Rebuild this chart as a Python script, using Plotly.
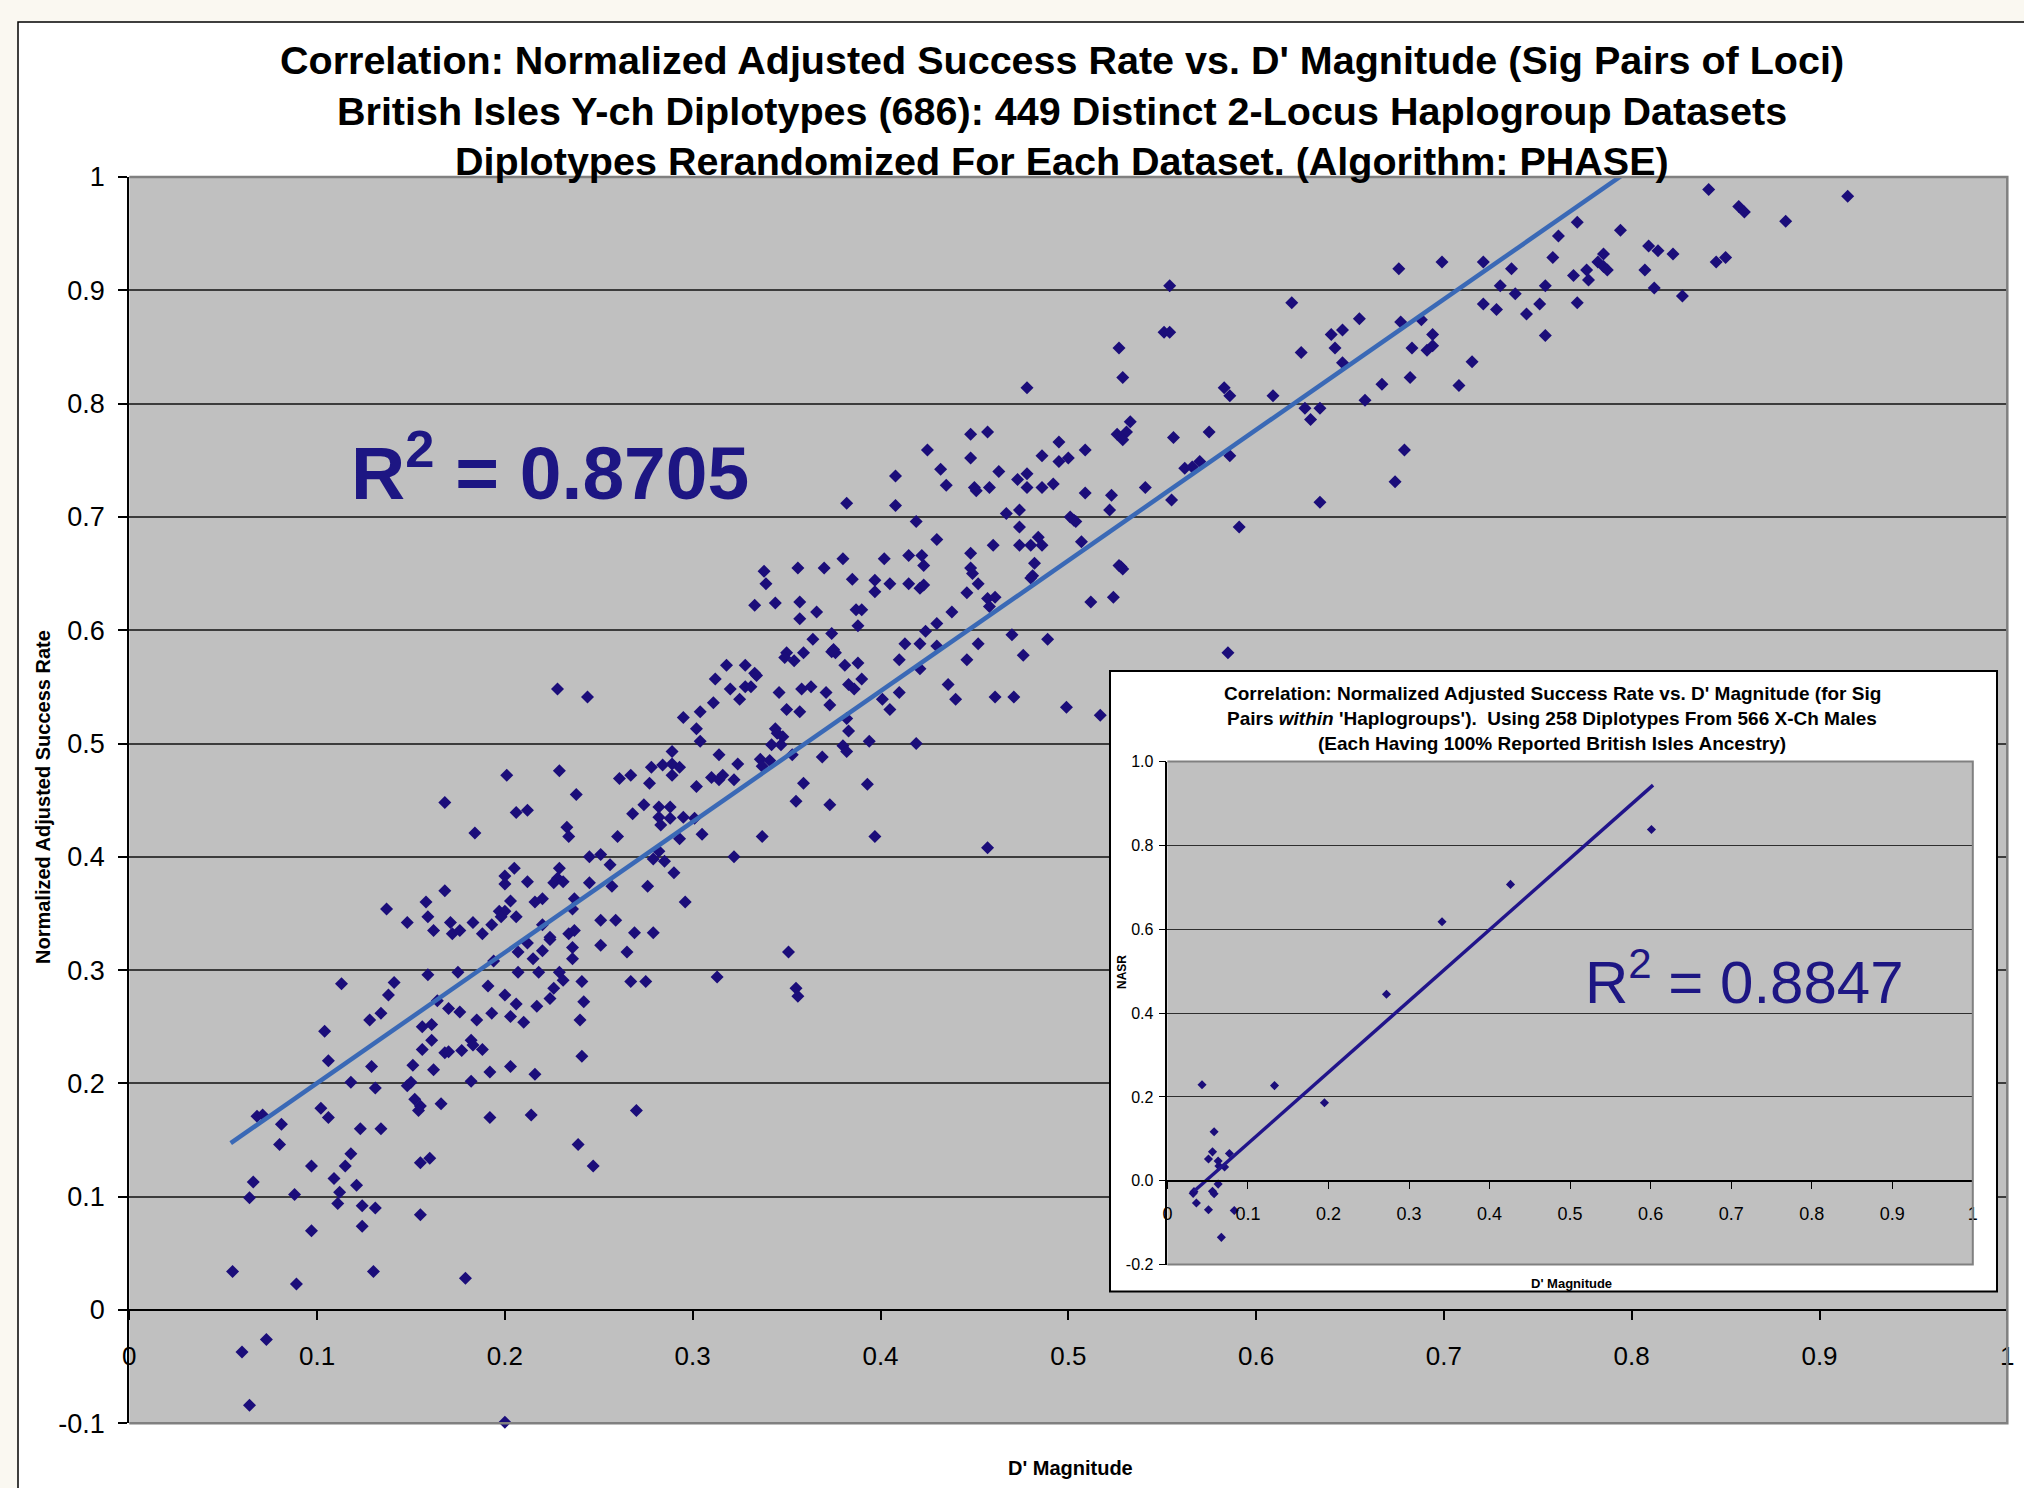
import plotly.graph_objects as go

W, H = 2024, 1488
FONT = "Liberation Sans, Arial, sans-serif"

# ---------------- main scatter data (D' magnitude vs NASR) ----------------
dprime_low = [0.134, 0.128, 0.104, 0.106, 0.129, 0.118, 0.131, 0.102, 0.106, 0.068, 0.071, 0.081, 0.080,
              0.123, 0.134, 0.118, 0.115, 0.097, 0.066, 0.064, 0.088, 0.109, 0.112, 0.121, 0.111, 0.124,
              0.131, 0.124, 0.097, 0.055, 0.089, 0.130, 0.155, 0.179, 0.060, 0.073, 0.064, 0.200, 0.155,
              0.160, 0.152, 0.155, 0.154, 0.166, 0.148, 0.150, 0.182, 0.162, 0.151, 0.156, 0.161, 0.168,
              0.170, 0.177, 0.182, 0.183, 0.188, 0.192, 0.192, 0.203, 0.216, 0.214, 0.239, 0.247, 0.241,
              0.240, 0.242, 0.270, 0.156, 0.161, 0.164, 0.170, 0.176, 0.185, 0.193, 0.203, 0.206, 0.210,
              0.217]
nasr_low = [0.262, 0.256, 0.246, 0.220, 0.215, 0.201, 0.196, 0.178, 0.170, 0.171, 0.172, 0.164, 0.146,
            0.160, 0.160, 0.138, 0.127, 0.127, 0.113, 0.099, 0.102, 0.116, 0.104, 0.110, 0.094, 0.092,
            0.090, 0.074, 0.070, 0.034, 0.023, 0.034, 0.084, 0.028, -0.037, -0.026, -0.084, -0.099, 0.130,
            0.134, 0.186, 0.180, 0.176, 0.182, 0.198, 0.201, 0.202, 0.212, 0.216, 0.230, 0.238, 0.227,
            0.228, 0.229, 0.238, 0.234, 0.230, 0.210, 0.170, 0.215, 0.208, 0.172, 0.146, 0.127, 0.224,
            0.256, 0.272, 0.176, 0.250, 0.252, 0.273, 0.266, 0.263, 0.256, 0.262, 0.259, 0.270, 0.254,
            0.268]

dprime_mid1 = [0.228, 0.244, 0.201, 0.229, 0.168, 0.206, 0.212, 0.238, 0.184, 0.233, 0.234, 0.260, 0.261,
               0.267, 0.277, 0.268, 0.274, 0.245, 0.251, 0.256, 0.205, 0.200, 0.200, 0.212, 0.229, 0.228,
               0.226, 0.231, 0.245, 0.257, 0.276, 0.168, 0.158, 0.137, 0.148, 0.159, 0.162, 0.171, 0.172,
               0.176, 0.183, 0.188, 0.193, 0.197, 0.200, 0.198, 0.203, 0.206, 0.216, 0.220, 0.220, 0.237,
               0.236, 0.251, 0.259, 0.269, 0.234, 0.237, 0.236, 0.236, 0.224, 0.224, 0.220, 0.215, 0.212,
               0.207, 0.194, 0.207, 0.218, 0.229, 0.231, 0.241, 0.251, 0.265, 0.267, 0.275, 0.175, 0.159,
               0.141, 0.113, 0.138, 0.191, 0.200, 0.226, 0.224]
nasr_mid1 = [0.548, 0.541, 0.472, 0.476, 0.448, 0.439, 0.441, 0.455, 0.421, 0.426, 0.418, 0.418, 0.469,
             0.472, 0.465, 0.438, 0.446, 0.400, 0.402, 0.393, 0.390, 0.383, 0.376, 0.378, 0.390, 0.381,
             0.377, 0.378, 0.377, 0.374, 0.374, 0.370, 0.360, 0.354, 0.342, 0.347, 0.335, 0.342, 0.332,
             0.335, 0.342, 0.332, 0.340, 0.352, 0.352, 0.347, 0.361, 0.347, 0.360, 0.363, 0.340, 0.363,
             0.354, 0.344, 0.344, 0.333, 0.332, 0.335, 0.320, 0.310, 0.329, 0.327, 0.317, 0.310, 0.324,
             0.316, 0.308, 0.298, 0.298, 0.298, 0.291, 0.290, 0.322, 0.316, 0.290, 0.290, 0.298, 0.296,
             0.289, 0.288, 0.278, 0.286, 0.278, 0.284, 0.275]

dprime_mid2 = [0.382, 0.408, 0.338, 0.339, 0.356, 0.370, 0.380, 0.402, 0.385, 0.397, 0.397, 0.405, 0.333,
               0.344, 0.357, 0.357, 0.366, 0.387, 0.390, 0.388, 0.374, 0.364, 0.350, 0.349, 0.354, 0.359,
               0.375, 0.376, 0.374, 0.381, 0.388, 0.390, 0.383, 0.386, 0.318, 0.328, 0.312, 0.333, 0.334,
               0.320, 0.328, 0.331, 0.325, 0.311, 0.304, 0.295, 0.302, 0.304, 0.314, 0.289, 0.284, 0.289,
               0.293, 0.289, 0.278, 0.324, 0.302, 0.310, 0.314, 0.316, 0.322, 0.346, 0.350, 0.357, 0.358,
               0.363, 0.371, 0.373, 0.344, 0.345, 0.348, 0.342, 0.347, 0.336, 0.337, 0.341, 0.353, 0.359,
               0.355, 0.369, 0.373, 0.382, 0.383, 0.380, 0.382, 0.394, 0.401, 0.405, 0.410, 0.393, 0.397,
               0.337, 0.322, 0.305, 0.293, 0.301, 0.295, 0.288, 0.288, 0.282, 0.282, 0.283, 0.282, 0.279,
               0.285, 0.290, 0.296, 0.279, 0.351, 0.313, 0.355, 0.356, 0.457]
nasr_mid2 = [0.712, 0.710, 0.652, 0.641, 0.655, 0.655, 0.663, 0.663, 0.645, 0.644, 0.634, 0.641, 0.622,
             0.624, 0.625, 0.610, 0.616, 0.618, 0.618, 0.604, 0.597, 0.592, 0.580, 0.576, 0.573, 0.580,
             0.583, 0.580, 0.581, 0.569, 0.571, 0.557, 0.552, 0.548, 0.569, 0.569, 0.557, 0.562, 0.560,
             0.548, 0.550, 0.550, 0.539, 0.536, 0.528, 0.523, 0.513, 0.502, 0.490, 0.493, 0.481, 0.482,
             0.479, 0.472, 0.479, 0.482, 0.462, 0.470, 0.468, 0.472, 0.468, 0.545, 0.530, 0.528, 0.548,
             0.550, 0.545, 0.534, 0.513, 0.509, 0.506, 0.499, 0.499, 0.486, 0.480, 0.485, 0.490, 0.465,
             0.449, 0.488, 0.446, 0.522, 0.511, 0.498, 0.493, 0.502, 0.539, 0.530, 0.545, 0.464, 0.418,
             0.418, 0.400, 0.420, 0.416, 0.434, 0.435, 0.434, 0.444, 0.444, 0.435, 0.428, 0.405, 0.398,
             0.396, 0.386, 0.360, 0.333, 0.316, 0.294, 0.284, 0.277, 0.408]

dprime_mid3 = [0.435, 0.450, 0.451, 0.458, 0.478, 0.486, 0.492, 0.509, 0.523, 0.522, 0.541, 0.555, 0.634,
               0.419, 0.430, 0.415, 0.422, 0.423, 0.415, 0.421, 0.423, 0.448, 0.448, 0.449, 0.452, 0.446,
               0.460, 0.467, 0.474, 0.474, 0.474, 0.480, 0.484, 0.486, 0.482, 0.481, 0.480, 0.501, 0.503,
               0.504, 0.507, 0.528, 0.529, 0.527, 0.512, 0.524, 0.457, 0.461, 0.458, 0.438, 0.430, 0.424,
               0.413, 0.421, 0.430, 0.410, 0.421, 0.436, 0.440, 0.446, 0.452, 0.470, 0.476, 0.489, 0.461,
               0.471, 0.499, 0.517, 0.419, 0.585, 0.591]
nasr_mid3 = [0.728, 0.726, 0.723, 0.726, 0.726, 0.726, 0.729, 0.721, 0.719, 0.706, 0.726, 0.715, 0.713,
             0.696, 0.680, 0.666, 0.666, 0.657, 0.641, 0.637, 0.640, 0.668, 0.655, 0.650, 0.641, 0.633,
             0.675, 0.703, 0.706, 0.691, 0.675, 0.675, 0.682, 0.675, 0.659, 0.648, 0.646, 0.700, 0.697,
             0.696, 0.678, 0.656, 0.654, 0.657, 0.625, 0.629, 0.628, 0.629, 0.621, 0.616, 0.606, 0.599,
             0.588, 0.588, 0.586, 0.574, 0.566, 0.552, 0.539, 0.574, 0.588, 0.596, 0.578, 0.592, 0.541,
             0.541, 0.532, 0.525, 0.500, 0.580, 0.691]

dprime_high1 = [0.554, 0.551, 0.554, 0.619, 0.624, 0.640, 0.642, 0.646, 0.646, 0.527, 0.529, 0.478, 0.583,
                0.586, 0.609, 0.626, 0.634, 0.629, 0.533, 0.526, 0.531, 0.529, 0.556, 0.575, 0.586, 0.562,
                0.566, 0.570, 0.448, 0.457, 0.425, 0.432, 0.448, 0.463, 0.408, 0.473, 0.478, 0.486, 0.495,
                0.495, 0.500, 0.509]
nasr_high1 = [0.904, 0.863, 0.863, 0.889, 0.845, 0.861, 0.849, 0.865, 0.836, 0.849, 0.823, 0.814, 0.814,
              0.807, 0.807, 0.796, 0.796, 0.786, 0.784, 0.773, 0.775, 0.768, 0.770, 0.775, 0.754, 0.743,
              0.744, 0.749, 0.773, 0.775, 0.759, 0.742, 0.752, 0.740, 0.736, 0.733, 0.738, 0.754, 0.766,
              0.749, 0.752, 0.759]

dprime_high2 = [0.841, 0.915, 0.857, 0.860, 0.882, 0.771, 0.794, 0.761, 0.809, 0.814, 0.822, 0.785, 0.782,
                0.758, 0.785, 0.787, 0.776, 0.769, 0.777, 0.807, 0.812, 0.827, 0.845, 0.850, 0.699, 0.676,
                0.721, 0.736, 0.730, 0.738, 0.754, 0.771, 0.751, 0.744, 0.754, 0.721, 0.728, 0.655, 0.677,
                0.688, 0.694, 0.694, 0.691, 0.683, 0.715, 0.667, 0.682, 0.708, 0.658, 0.679, 0.674]
nasr_high2 = [0.989, 0.983, 0.974, 0.969, 0.961, 0.960, 0.953, 0.948, 0.939, 0.935, 0.932, 0.932, 0.925,
              0.929, 0.921, 0.918, 0.918, 0.913, 0.909, 0.918, 0.902, 0.895, 0.925, 0.929, 0.925, 0.919,
              0.925, 0.919, 0.904, 0.897, 0.904, 0.889, 0.888, 0.879, 0.860, 0.888, 0.883, 0.875, 0.872,
              0.874, 0.861, 0.851, 0.847, 0.849, 0.837, 0.817, 0.823, 0.816, 0.803, 0.759, 0.731]

main_x = dprime_low + dprime_mid1 + dprime_mid2 + dprime_mid3 + dprime_high1 + dprime_high2
main_y = nasr_low + nasr_mid1 + nasr_mid2 + nasr_mid3 + nasr_high1 + nasr_high2

# linear trendline of main chart
trend_slope = 1.153
trend_intercept = 0.085
trend_x = [0.054, 0.915]
trend_y = [trend_slope * v + trend_intercept for v in trend_x]
main_r2_text = "R<sup>2</sup> = 0.8705"

# ---------------- inset data ----------------
inset_x = [0.601, 0.426, 0.341, 0.272, 0.133, 0.195, 0.043, 0.058, 0.056, 0.051, 0.077, 0.063,
           0.071, 0.064, 0.063, 0.033, 0.032, 0.056, 0.058, 0.036, 0.051, 0.083, 0.067]
inset_y = [0.838, 0.707, 0.618, 0.445, 0.227, 0.186, 0.229, 0.117, 0.069, 0.052, 0.065, 0.047,
           0.033, 0.035, -0.008, -0.026, -0.030, -0.025, -0.031, -0.053, -0.069, -0.071, -0.135]
inset_trend_x = [0.033, 0.603]
inset_trend_y = [-0.025, 0.944]
inset_r2_text = "R<sup>2</sup> = 0.8847"

# ---------------- ticks ----------------
x_tickvals = [0, 0.1, 0.2, 0.3, 0.4, 0.5, 0.6, 0.7, 0.8, 0.9, 1]
x_ticktext = ["0", "0.1", "0.2", "0.3", "0.4", "0.5", "0.6", "0.7", "0.8", "0.9", "1"]
y_tickvals = [-0.1, 0, 0.1, 0.2, 0.3, 0.4, 0.5, 0.6, 0.7, 0.8, 0.9, 1]
y_ticktext = ["-0.1", "0", "0.1", "0.2", "0.3", "0.4", "0.5", "0.6", "0.7", "0.8", "0.9", "1"]
inset_y_tickvals = [-0.2, 0.0, 0.2, 0.4, 0.6, 0.8, 1.0]
inset_y_ticktext = ["-0.2", "0.0", "0.2", "0.4", "0.6", "0.8", "1.0"]

title_lines = [
    "Correlation: Normalized Adjusted Success Rate vs. D' Magnitude (Sig Pairs of Loci)",
    "British Isles Y-ch Diplotypes (686): 449 Distinct 2-Locus Haplogroup Datasets",
    "Diplotypes Rerandomized For Each Dataset. (Algorithm: PHASE)",
]
inset_title_lines = [
    "Correlation: Normalized Adjusted Success Rate vs. D' Magnitude (for Sig",
    "Pairs <i>within</i> 'Haplogroups').\u00a0 Using 258 Diplotypes From 566 X-Ch Males",
    "(Each Having 100% Reported British Isles Ancestry)",
]

# ---------------- layout geometry (pixels -> paper) ----------------
def px(X):
    return X / W

def py(Y):
    return 1 - Y / H

MAIN_L, MAIN_R, MAIN_T, MAIN_B = 129.3, 2007.3, 177.0, 1423.3
INS_L, INS_R, INS_T, INS_B = 1167.4, 1972.8, 761.6, 1264.6
Y_RANGE = [-0.1, 1.0]
Y2_RANGE = [-0.2, 1.0]

main_ydom = [py(MAIN_B), py(MAIN_T)]
ins_ydom = [py(INS_B), py(INS_T)]
main_x_pos = main_ydom[0] + (0 - Y_RANGE[0]) / (Y_RANGE[1] - Y_RANGE[0]) * (main_ydom[1] - main_ydom[0])
ins_x_pos = ins_ydom[0] + (0 - Y2_RANGE[0]) / (Y2_RANGE[1] - Y2_RANGE[0]) * (ins_ydom[1] - ins_ydom[0])

def main_data_x(X):
    return (X - MAIN_L) / (MAIN_R - MAIN_L)

def main_data_y(Y):
    return Y_RANGE[1] - (Y - MAIN_T) / (MAIN_B - MAIN_T) * (Y_RANGE[1] - Y_RANGE[0])

MARK = "#1B0D7A"
NAVY_TXT = "#1D1683"

fig = go.Figure()
fig.add_trace(go.Scatter(x=main_x, y=main_y, mode="markers", xaxis="x", yaxis="y",
                         marker=dict(symbol="diamond", size=10, color=MARK, line=dict(width=0)),
                         cliponaxis=False, hoverinfo="skip"))
fig.add_trace(go.Scatter(x=trend_x, y=trend_y, mode="lines", xaxis="x", yaxis="y",
                         line=dict(color="#3A69B6", width=4.5), hoverinfo="skip"))
fig.add_trace(go.Scatter(x=inset_x, y=inset_y, mode="markers", xaxis="x2", yaxis="y2",
                         marker=dict(symbol="diamond", size=7, color=MARK, line=dict(width=0)),
                         cliponaxis=False, hoverinfo="skip"))
fig.add_trace(go.Scatter(x=inset_trend_x, y=inset_trend_y, mode="lines", xaxis="x2", yaxis="y2",
                         line=dict(color="#21148A", width=3.5), hoverinfo="skip"))

axis_common = dict(zeroline=False, fixedrange=True, showline=True,
                   linecolor="black", ticks="outside", tickcolor="black")

fig.update_layout(
    autosize=True, margin=dict(l=0, r=0, t=0, b=0, autoexpand=False),
    paper_bgcolor="white", plot_bgcolor="#C0C0C0", showlegend=False,
    font=dict(family=FONT, color="black"),
    xaxis=dict(**axis_common, showgrid=False, domain=[px(MAIN_L), px(MAIN_R)], anchor="free",
               position=main_x_pos, range=[0, 1], tickmode="array", tickvals=x_tickvals,
               ticktext=x_ticktext, linewidth=2, tickwidth=1.5, ticklen=9, ticklabelstandoff=14,
               tickfont=dict(size=26, family=FONT)),
    yaxis=dict(**axis_common, domain=main_ydom, anchor="x", range=Y_RANGE,
               tickmode="array", tickvals=y_tickvals, ticktext=y_ticktext,
               showgrid=True, gridcolor="#3C3C3C", gridwidth=1.5,
               linewidth=2, tickwidth=1.5, ticklen=9, ticklabelstandoff=8,
               tickfont=dict(size=27, family=FONT)),
    xaxis2=dict(**axis_common, showgrid=False, domain=[px(INS_L), px(INS_R)], anchor="free",
                position=ins_x_pos, range=[0, 1], tickmode="array", tickvals=x_tickvals,
                ticktext=x_ticktext, linewidth=1.5, tickwidth=1.2, ticklen=7, ticklabelstandoff=10,
                tickfont=dict(size=18, family=FONT)),
    yaxis2=dict(**axis_common, domain=ins_ydom, anchor="x2", range=Y2_RANGE,
                tickmode="array", tickvals=inset_y_tickvals, ticktext=inset_y_ticktext,
                showgrid=True, gridcolor="#2E2E2E", gridwidth=1,
                linewidth=1.5, tickwidth=1.2, ticklen=7, ticklabelstandoff=2,
                tickfont=dict(size=16, family=FONT)),
)

shapes = []
CREAM = "#FAF8F1"
shapes.append(dict(type="rect", xref="paper", yref="paper", x0=0, x1=1, y0=py(22), y1=1,
                   fillcolor=CREAM, line=dict(width=0), layer="below"))
shapes.append(dict(type="rect", xref="paper", yref="paper", x0=0, x1=px(18), y0=0, y1=1,
                   fillcolor=CREAM, line=dict(width=0), layer="below"))
shapes.append(dict(type="path", xref="paper", yref="paper",
                   path=f"M {px(18)},{py(H + 5)} L {px(18)},{py(22)} L {px(W + 5)},{py(22)}",
                   line=dict(color="black", width=1.5), layer="below"))
# grey border of main plot area (top, right, bottom)
shapes.append(dict(type="path", xref="paper", yref="paper",
                   path=f"M {px(MAIN_L)},{py(MAIN_T)} L {px(MAIN_R)},{py(MAIN_T)} L {px(MAIN_R)},{py(MAIN_B)} L {px(MAIN_L)},{py(MAIN_B)}",
                   line=dict(color="#808080", width=2.5), layer="above"))
# inset white frame (drawn between gridlines and traces of the main chart)
shapes.append(dict(type="rect", xref="x", yref="y",
                   x0=main_data_x(1110), x1=main_data_x(1997), y0=main_data_y(1291.5), y1=main_data_y(671),
                   fillcolor="white", line=dict(color="black", width=2), layer="between"))
# grey border of inset plot area
shapes.append(dict(type="path", xref="paper", yref="paper",
                   path=f"M {px(INS_L)},{py(INS_T)} L {px(INS_R)},{py(INS_T)} L {px(INS_R)},{py(INS_B)} L {px(INS_L)},{py(INS_B)}",
                   line=dict(color="#808080", width=2), layer="above"))
fig.update_layout(shapes=shapes)

ann = []
for i, line in enumerate(title_lines):
    ann.append(dict(text=f"<b>{line}</b>", x=px(1062), y=py(60.5 + 50.2 * i), xref="paper", yref="paper",
                    xanchor="center", yanchor="middle", showarrow=False,
                    font=dict(size=39.5, family=FONT, color="black")))
for i, line in enumerate(inset_title_lines):
    ann.append(dict(text=f"<b>{line}</b>", x=px(1552), y=py(694 + 24.7 * i), xref="paper", yref="paper",
                    xanchor="center", yanchor="middle", showarrow=False,
                    font=dict(size=19, family=FONT, color="black")))
ann.append(dict(text="<b>Normalized Adjusted Success Rate</b>", x=px(43), y=py(797), xref="paper", yref="paper",
                textangle=-90, xanchor="center", yanchor="middle", showarrow=False,
                font=dict(size=20, family=FONT, color="black")))
ann.append(dict(text="<b>D' Magnitude</b>", x=px(1070), y=py(1468), xref="paper", yref="paper",
                xanchor="center", yanchor="middle", showarrow=False,
                font=dict(size=20, family=FONT, color="black")))
ann.append(dict(text="<b>NASR</b>", x=px(1121.5), y=py(972.5), xref="paper", yref="paper",
                textangle=-90, xanchor="center", yanchor="middle", showarrow=False,
                font=dict(size=12, family=FONT, color="black")))
ann.append(dict(text="<b>D' Magnitude</b>", x=px(1571), y=py(1283), xref="paper", yref="paper",
                xanchor="center", yanchor="middle", showarrow=False,
                font=dict(size=13, family=FONT, color="black")))
ann.append(dict(text=f"<b>{main_r2_text}</b>", x=px(349), y=py(467), xref="paper", yref="paper",
                xanchor="left", yanchor="middle", showarrow=False,
                font=dict(size=75, family=FONT, color=NAVY_TXT)))
ann.append(dict(text=inset_r2_text, x=px(1583), y=py(978), xref="paper", yref="paper",
                xanchor="left", yanchor="middle", showarrow=False,
                font=dict(size=60, family=FONT, color=NAVY_TXT)))
fig.update_layout(annotations=ann)

fig.write_html(
    "out.html",
    config={"displayModeBar": False, "responsive": True},
    default_width="100%",
    default_height="100%",
    post_script=(
        "document.documentElement.style.height='100%';"
        "document.documentElement.style.overflow='hidden';"
        "document.body.style.height='100%';"
        "document.body.style.margin='0px';"
        "var gd=document.getElementById('{plot_id}');"
        "gd.parentElement.style.height='100%';"
        "Plotly.Plots.resize(gd);"
    ),
)
